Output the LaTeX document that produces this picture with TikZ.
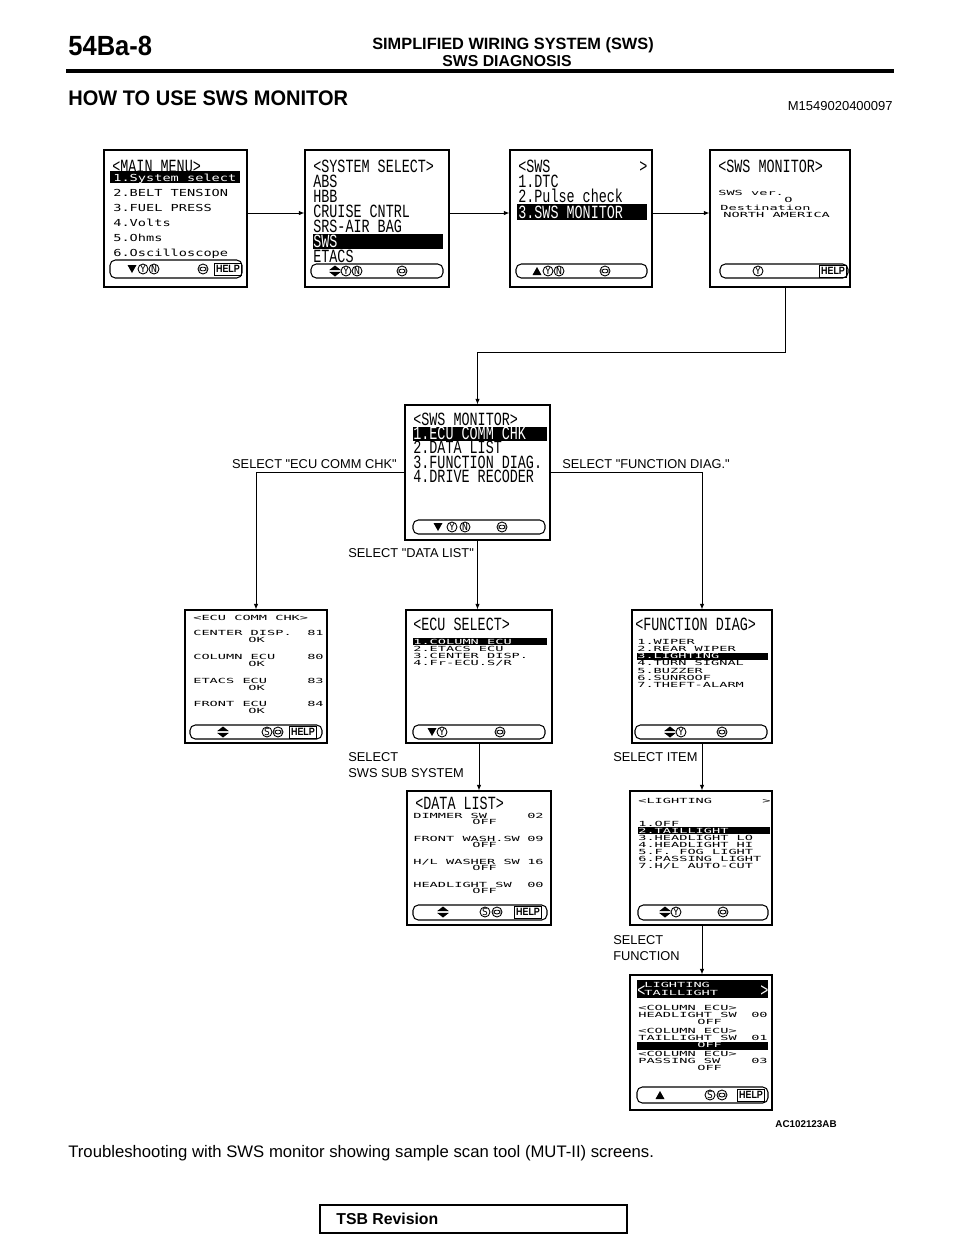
\documentclass[tikz,border=0pt]{standalone}
\usepackage{fontspec}
\usepackage{graphicx}
\setmainfont{Liberation Sans}
\newfontfamily\lblfont{Liberation Sans}
\newfontfamily\lcdsmall{DejaVu Sans Mono}
\newfontfamily\lcdlarge{Liberation Mono}
\usetikzlibrary{arrows.meta, positioning, fit}

% screen fonts
\newcommand{\smtxt}[1]{\scalebox{1.55}[1.1]{\lcdsmall\fontsize{5}{6}\selectfont #1}}
\newcommand{\dntxt}[1]{\scalebox{1.55}[0.8]{\lcdsmall\fontsize{5}{6}\selectfont #1}}
\newcommand{\bgtxt}[1]{\scalebox{0.72}[1]{\lcdlarge\fontsize{10.6}{12}\selectfont #1}}

\tikzset{
  screen/.style={draw=black, line width=0.7pt, inner sep=0pt},
  keybar/.style={draw=black, line width=0.6pt, rounded corners=3pt},
  hilite/.style={fill=black},
  lcd/.style={inner sep=0pt, anchor=base west},
  lcdw/.style={lcd, text=white},
  lcdr/.style={inner sep=0pt, anchor=base east},
  lbl/.style={inner sep=0pt, anchor=base west, font=\lblfont\fontsize{7.3}{9}\selectfont},
  arr/.style={line width=0.5pt, -{Latex[length=1.1mm, width=0.9mm]}},
  keyc/.style={draw, circle, line width=0.5pt, minimum size=0.2cm, inner sep=0pt,
    font=\lcdsmall\fontsize{5.5}{5}\selectfont},
  helpbox/.style={draw, line width=0.5pt, inner sep=0pt, minimum width=0.55cm,
    minimum height=0.24cm, font=\bfseries\fontsize{6}{6}\selectfont},
  pics/dnkey/.style={code={\fill (-4.5,-4) -- (4.5,-4) -- (0,4) -- cycle;}},
  pics/upkey/.style={code={\fill (-4.5,4) -- (4.5,4) -- (0,-4) -- cycle;}},
  pics/udkey/.style={code={\fill (-6,-0.8) -- (6,-0.8) -- (0,-5.5) -- cycle;
    \fill (-6,0.8) -- (6,0.8) -- (0,5.5) -- cycle;}},
  pics/rkey/.style={code={\node[keyc] (-k) {#1};}},
  pics/ckey/.style={code={\node[keyc] (-k) {};
    \draw[line width=0.5pt, rounded corners=1.2] (-3,-1.8) rectangle (3,1.8);}},
  pics/helpkey/.style={code={\node[helpbox] (-k) {\scalebox{0.85}[1]{HELP}};}},
}

\begin{document}
\begin{tikzpicture}[x=0.02cm, y=-0.02cm]
\useasboundingbox (0,0) rectangle (960,1242);

% page header
\node[anchor=base west, inner sep=0pt, font=\bfseries\fontsize{15.8}{18}\selectfont] (pagenum) at (68,55) {\scalebox{0.92}[1]{54Ba-8}};
\node[anchor=base, inner sep=0pt, font=\bfseries\fontsize{9.3}{11}\selectfont] (section) at (513,49) {SIMPLIFIED WIRING SYSTEM (SWS)};
\node[anchor=base, inner sep=0pt, font=\bfseries\fontsize{9}{11}\selectfont] (subsection) at (507,66) {SWS DIAGNOSIS};
\draw[line width=2.2pt] (66,71) -- (894,71);
\node[anchor=base west, inner sep=0pt, font=\bfseries\fontsize{12}{14}\selectfont] (title) at (68,105) {\scalebox{0.95}[1]{HOW TO USE SWS MONITOR}};
\node[anchor=base east, inner sep=0pt, font=\fontsize{7.4}{9}\selectfont] (docid) at (893,110) {M1549020400097};

% <MAIN MENU>
\node[screen, fit={(104,150) (247,287)}] (mainmenu) {};
\node[lcd] (mm0) at (112,172) {\bgtxt{<MAIN MENU>}};
\fill[hilite] (110,171) rectangle (240,183);
\node[lcdw] (mm1) at (113,181) {\smtxt{1.System select}};
\foreach \t [count=\i from 2] in {2.BELT TENSION, 3.FUEL PRESS, 4.Volts, 5.Ohms, 6.Oscilloscope}
  \node[lcd] (mm\i) at (113,{166+15*\i}) {\smtxt{\t}};
\draw[keybar] (110,260) rectangle (242,278);
\pic (mmdn) at (132,269) {dnkey};
\pic (mmy) at (143,269) {rkey=Y};
\pic (mmn) at (154,269) {rkey=N};
\pic (mmc) at (203,269) {ckey};
\pic (mmhelp) at (228,269) {helpkey};

% <SYSTEM SELECT>
\node[screen, fit={(305,150) (449,287)}] (sysselect) {};
\fill[hilite] (313,234) rectangle (443,249);
\foreach \t [count=\i from 0] in {<SYSTEM SELECT>, ABS, HBB, CRUISE CNTRL, SRS-AIR BAG}
  \node[lcd] (ss\i) at (313,{172+15*\i}) {\bgtxt{\t}};
\node[lcdw] (ss5) at (313,247) {\bgtxt{SWS}};
\node[lcd] (ss6) at (313,262) {\bgtxt{ETACS}};
\draw[keybar] (311,264) rectangle (443,278);
\pic (ssud) at (335,271) {udkey};
\pic (ssy) at (346,271) {rkey=Y};
\pic (ssn) at (357,271) {rkey=N};
\pic (ssc) at (402,271) {ckey};

% <SWS
\node[screen, fit={(510,150) (652,287)}] (swsmenu) {};
\node[lcd] (sw0) at (518,172) {\bgtxt{<SWS}};
\node[lcd] (sw0r) at (639,172) {\bgtxt{>}};
\node[lcd] (sw1) at (518,187) {\bgtxt{1.DTC}};
\node[lcd] (sw2) at (518,202) {\bgtxt{2.Pulse check}};
\fill[hilite] (517,204) rectangle (647,220);
\node[lcdw] (sw3) at (518,218) {\bgtxt{3.SWS MONITOR}};
\draw[keybar] (516,264) rectangle (647,278);
\pic (swup) at (537,271) {upkey};
\pic (swy) at (548,271) {rkey=Y};
\pic (swn) at (559,271) {rkey=N};
\pic (swc) at (605,271) {ckey};

% <SWS MONITOR> version
\node[screen, fit={(710,150) (850,287)}] (swsver) {};
\node[lcd] (sv0) at (718,172) {\bgtxt{<SWS MONITOR>}};
\node[lcd] (sv1) at (718,195) {\dntxt{SWS ver.}};
\node[lcd] (sv2) at (784,202) {\dntxt{O}};
\node[lcd] (sv3) at (720,210) {\dntxt{Destination}};
\node[lcd] (sv4) at (723,217) {\dntxt{NORTH AMERICA}};
\draw[keybar] (720,264) rectangle (848,278);
\pic (svy) at (758,271) {rkey=Y};
\pic (svhelp) at (833,271) {helpkey};

% <SWS MONITOR> menu
\node[screen, fit={(405,405) (550,540)}] (monmenu) {};
\node[lcd] (mo0) at (413,425) {\bgtxt{<SWS MONITOR>}};
\fill[hilite] (413,427) rectangle (547,441);
\node[lcdw] (mo1) at (413,439) {\bgtxt{1.ECU COMM CHK}};
\foreach \t [count=\i from 2] in {2.DATA LIST, 3.FUNCTION DIAG., 4.DRIVE RECODER}
  \node[lcd] (mo\i) at (413,{424.5+14.5*\i}) {\bgtxt{\t}};
\draw[keybar] (413,520) rectangle (545,534);
\pic (modn) at (438,527) {dnkey};
\pic (moy) at (452,527) {rkey=Y};
\pic (mon) at (465,527) {rkey=N};
\pic (moc) at (502,527) {ckey};

% <ECU COMM CHK>
\node[screen, fit={(185,610) (327,743)}] (commchk) {};
\node[lcd] (cc0) at (193,620) {\dntxt{<ECU COMM CHK>}};
\foreach \t/\n [count=\i] in {CENTER DISP./81, COLUMN ECU/80, ETACS ECU/83, FRONT ECU/84} {
  \node[lcd] (cc\i) at (193,{612+23.7*\i}) {\dntxt{\t}};
  \node[lcdr] (ccn\i) at (324,{612+23.7*\i}) {\dntxt{\n}};
  \node[lcd] (cco\i) at (248,{619+23.7*\i}) {\dntxt{OK}};
}
\draw[keybar] (190,725) rectangle (322,739);
\pic (ccud) at (223,732) {udkey};
\pic (ccs) at (267,732) {rkey=S};
\pic (ccc) at (278,732) {ckey};
\pic (cchelp) at (303,732) {helpkey};

% <ECU SELECT>
\node[screen, fit={(406,610) (552,743)}] (ecusel) {};
\node[lcd] (es0) at (413,630) {\bgtxt{<ECU SELECT>}};
\fill[hilite] (413,638) rectangle (547,645);
\node[lcdw] (es1) at (413,644) {\dntxt{1.COLUMN ECU}};
\foreach \t [count=\i from 2] in {2.ETACS ECU, 3.CENTER DISP., {4.Fr-ECU.S/R}}
  \node[lcd] (es\i) at (413,{637+7*\i}) {\dntxt{\t}};
\draw[keybar] (413,725) rectangle (545,739);
\pic (esdn) at (432,732) {dnkey};
\pic (esy) at (442,732) {rkey=Y};
\pic (esc) at (500,732) {ckey};

% <FUNCTION DIAG>
\node[screen, fit={(632,610) (772,743)}] (fndiag) {};
\node[lcd] (fd0) at (635,630) {\bgtxt{<FUNCTION DIAG>}};
\fill[hilite] (637,653) rectangle (768,660);
\foreach \t/\c [count=\i] in {1.WIPER/black, 2.REAR WIPER/black, 3.LIGHTING/white, 4.TURN SIGNAL/black,
    5.BUZZER/black, 6.SUNROOF/black, 7.THEFT-ALARM/black}
  \node[lcd, text=\c] (fd\i) at (637,{637+7.2*\i}) {\dntxt{\t}};
\draw[keybar] (635,725) rectangle (767,739);
\pic (fdud) at (670,732) {udkey};
\pic (fdy) at (681,732) {rkey=Y};
\pic (fdc) at (722,732) {ckey};

% <DATA LIST>
\node[screen, fit={(407,791) (551,925)}] (datalist) {};
\node[lcd] (dl0) at (415,809) {\bgtxt{<DATA LIST>}};
\foreach \t/\n [count=\i] in {DIMMER SW/02, FRONT WASH.SW/09, {H/L WASHER SW}/16, HEADLIGHT SW/00} {
  \node[lcd] (dl\i) at (413,{794.7+23.3*\i}) {\dntxt{\t}};
  \node[lcdr] (dln\i) at (544,{794.7+23.3*\i}) {\dntxt{\n}};
  \node[lcd] (dlo\i) at (472,{800.7+23.3*\i}) {\dntxt{OFF}};
}
\draw[keybar] (413,905) rectangle (547,920);
\pic (dlud) at (443,912) {udkey};
\pic (dls) at (485,912) {rkey=S};
\pic (dlc) at (497,912) {ckey};
\pic (dlhelp) at (528,912) {helpkey};

% <LIGHTING
\node[screen, fit={(630,791) (772,925)}] (lighting) {};
\node[lcd] (lg0) at (638,803) {\dntxt{<LIGHTING}};
\node[lcd] (lg0r) at (762,803) {\dntxt{>}};
\fill[hilite] (638,827) rectangle (770,834);
\foreach \t/\c [count=\i] in {1.OFF/black, 2.TAILLIGHT/white, 3.HEADLIGHT LO/black, 4.HEADLIGHT HI/black,
    5.F. FOG LIGHT/black, 6.PASSING LIGHT/black, {7.H/L AUTO-CUT}/black}
  \node[lcd, text=\c] (lg\i) at (638,{819+7*\i}) {\dntxt{\t}};
\draw[keybar] (638,905) rectangle (768,920);
\pic (lgud) at (665,912) {udkey};
\pic (lgy) at (676,912) {rkey=Y};
\pic (lgc) at (723,912) {ckey};

% <LIGHTING TAILLIGHT>
\node[screen, fit={(630,975) (772,1110)}] (taillight) {};
\fill[hilite] (637,980) rectangle (768,998);
\node[lcdw] (tl0) at (637,996) {\bgtxt{<}};
\node[lcdw] (tl0r) at (760,996) {\bgtxt{>}};
\node[lcdw] (tl1) at (644,987) {\dntxt{LIGHTING}};
\node[lcdw] (tl2) at (644,995) {\dntxt{TAILLIGHT}};
\fill[hilite] (637,1042) rectangle (768,1050);
\foreach \t/\n/\c [count=\i] in {HEADLIGHT SW/00/black, TAILLIGHT SW/01/white, PASSING SW/03/black} {
  \node[lcd] (tlc\i) at (638,{987+23*\i}) {\dntxt{<COLUMN ECU>}};
  \node[lcd] (tls\i) at (638,{994+23*\i}) {\dntxt{\t}};
  \node[lcdr] (tln\i) at (768,{994+23*\i}) {\dntxt{\n}};
  \node[lcd, text=\c] (tlo\i) at (697,{1001+23*\i}) {\dntxt{OFF}};
}
\draw[keybar] (637,1087) rectangle (768,1103);
\pic (tlup) at (660,1095) {upkey};
\pic (tls) at (710,1095) {rkey=S};
\pic (tlc) at (722,1095) {ckey};
\pic (tlhelp) at (751,1095) {helpkey};

% connectors
\coordinate (toprow) at (0,213);
\coordinate (midrow) at (0,472);
\coordinate (drop) at (785,352);
\draw[arr] (mainmenu.east |- toprow) -- (sysselect.west |- toprow);
\draw[arr] (sysselect.east |- toprow) -- (swsmenu.west |- toprow);
\draw[arr] (swsmenu.east |- toprow) -- (swsver.west |- toprow);
\draw[arr] (swsver.south -| drop) -- (drop) -| (monmenu.north);
\draw[arr] (monmenu.west |- midrow) -| (commchk.north);
\draw[arr] (monmenu.east |- midrow) -| (fndiag.north);
\draw[arr] (monmenu.south) -- (monmenu.south |- ecusel.north);
\draw[arr] (ecusel.south) -- (ecusel.south |- datalist.north);
\draw[arr] (fndiag.south) -- (fndiag.south |- lighting.north);
\draw[arr] (fndiag.south |- lighting.south) -- (fndiag.south |- taillight.north);

% connector labels
\node[lbl, anchor=base east] (selcomm) at (397,468) {SELECT "ECU COMM CHK"};
\node[lbl] (selfunc) at (562,468) {SELECT "FUNCTION DIAG."};
\node[lbl] (seldata) at (348,557) {SELECT "DATA LIST"};
\node[lbl, align=left] (selsub) at (348,777) {SELECT\\SWS SUB SYSTEM};
\node[lbl] (selitem) at (613,761) {SELECT ITEM};
\node[lbl, align=left] (selfn) at (613,960) {SELECT\\FUNCTION};

% footer
\node[anchor=base east, inner sep=0pt, font=\bfseries\fontsize{5.6}{7}\selectfont] (figid) at (837,1127) {AC102123AB};
\node[anchor=base west, inner sep=0pt, font=\fontsize{9.5}{11}\selectfont] (caption) at (68,1157) {Troubleshooting with SWS monitor showing sample scan tool (MUT-II) screens.};
\node[draw, line width=0.8pt, inner sep=0pt, fit={(320,1205) (627,1233)}] (tsbbox) {};
\node[anchor=base west, inner sep=0pt, font=\bfseries\fontsize{9}{11}\selectfont] (tsb) at (336,1224) {TSB Revision};
\end{tikzpicture}
\end{document}
